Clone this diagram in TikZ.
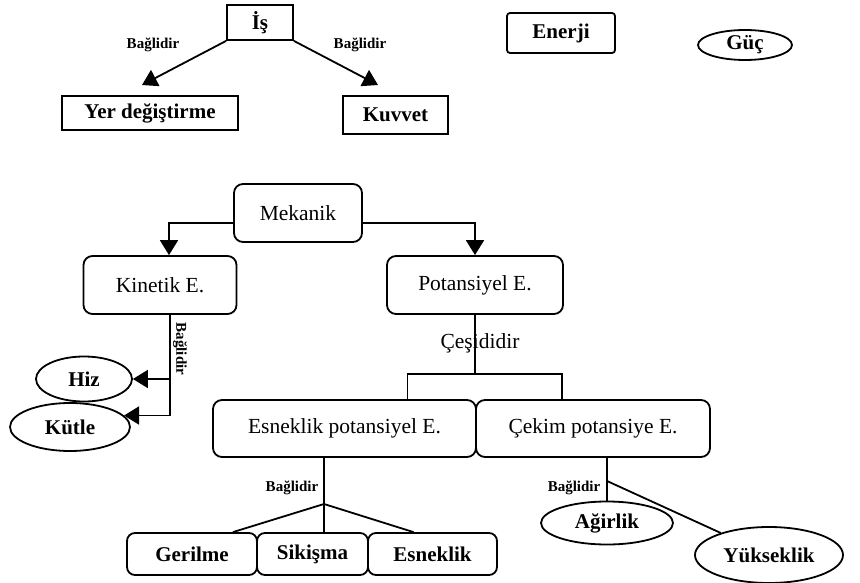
\documentclass[tikz,border=0pt]{standalone}
\usepackage{fontspec}
\setmainfont{Liberation Serif}
\usetikzlibrary{arrows.meta,shapes.geometric}

\begin{document}
\begin{tikzpicture}[x=1pt, y=-1pt, line width=1.8pt,
    every node/.style={font=\fontsize{21.5}{25}\selectfont, inner sep=0pt},
    box/.style={draw, rectangle},
    rbox/.style={draw, rectangle, rounded corners=9pt},
    oval/.style={draw, ellipse},
    leaf/.style={font=\fontsize{21}{25}\selectfont\bfseries},
    lbl/.style={font=\fontsize{15}{17}\selectfont\bfseries},
    arr/.style={-{Triangle[length=15pt,width=18pt]}}]
        \useasboundingbox (0,0) rectangle (860,583);

        \node[box, leaf, minimum width=66pt, minimum height=35pt] (is) at (260,22.5) {İş};
        \node[box, leaf, minimum width=176pt, minimum height=34pt] (yer) at (150,113) {Yer değiştirme};
        \node[box, leaf, minimum width=105pt, minimum height=38pt] (kuvvet) at (395.5,115) {Kuvvet};
        \node[box, leaf, rounded corners=3pt, minimum width=108pt, minimum height=40pt] (enerji) at (561,33) {Enerji};
        \node[oval, leaf, minimum width=94pt, minimum height=30pt] (guc) at (745,45) {Güç};

        \node[rbox, minimum width=128pt, minimum height=58pt] (mekanik) at (298,213) {Mekanik};
        \node[rbox, minimum width=153pt, minimum height=58pt] (kinetik) at (160,285) {Kinetik E.};
        \node[rbox, minimum width=176pt, minimum height=58pt] (potansiyel) at (475,285) {Potansiyel E.};

        \node[oval, leaf, minimum width=96pt, minimum height=45pt] (hiz) at (84,379) {Hiz};
        \node[oval, leaf, minimum width=120pt, minimum height=48pt] (kutle) at (70,427) {Kütle};

        \node[rbox, minimum width=263pt, minimum height=57pt] (esnekpot) at (344.5,428.5) {Esneklik potansiyel E.};
        \node[rbox, minimum width=234pt, minimum height=57pt] (cekim) at (593,428.5) {Çekim potansiye E.};

        \node[rbox, leaf, rounded corners=8pt, minimum width=130pt, minimum height=42pt] (gerilme) at (192,554) {Gerilme};
        \node[rbox, leaf, rounded corners=8pt, minimum width=111pt, minimum height=42pt] (sikisma) at (312.5,554) {\raisebox{3pt}{Sikişma}};
        \node[rbox, leaf, rounded corners=8pt, minimum width=129pt, minimum height=42pt] (esneklik) at (432.5,554) {Esneklik};

        \node[oval, leaf, minimum width=132pt, minimum height=43pt] (agirlik) at (607,523) {Ağirlik};
        \node[oval, leaf, minimum width=148pt, minimum height=56pt] (yukseklik) at (769,555) {Yükseklik};

        \coordinate (yertip) at (142,85);
        \coordinate (kuvvettip) at (378,85);
        \coordinate (kinj) at (170,420);
        \coordinate (cesj) at (475,374);
        \coordinate (esj) at (324,504);
        \coordinate (cekj) at (607,481);

        \node[lbl] (bag1) at (153,45) {Bağlidir};
        \node[lbl] (bag2) at (360,45) {Bağlidir};
        \node[lbl, rotate=-90] (bag3) at (180,349) {Bağlidir};
        \node (cesit) at (480,343) {Çeşididir};
        \node[lbl] (bag4) at (292,488) {Bağlidir};
        \node[lbl] (bag5) at (574,488) {Bağlidir};

        \draw[arr] (is.south west) -- (yertip);
        \draw[arr] (is.south east) -- (kuvvettip);
        \draw[arr] ([yshift=-10pt]mekanik.west) -| ([xshift=9pt]kinetik.north);
        \draw[arr] ([yshift=-10pt]mekanik.east) -| (potansiyel.north);
        \draw[arr] (kinj |- kinetik.south) |- (kutle.12);
        \draw[arr] (kinj |- hiz.east) -- (hiz.east);
        \draw (potansiyel.south) -- (cesj);
        \draw ([xshift=63pt]esnekpot.north) |- (cesj) -| ([xshift=-31pt]cekim.north);
        \draw (esj |- esnekpot.south) -- (esj);
        \draw (esj) -- ([xshift=41pt]gerilme.north);
        \draw (esj) -- (esj |- sikisma.north);
        \draw (esj) -- ([xshift=-19pt]esneklik.north);
        \draw (agirlik.north |- cekim.south) -- (agirlik.north);
        \draw (cekj) -- (yukseklik);
    \end{tikzpicture}
\end{document}
